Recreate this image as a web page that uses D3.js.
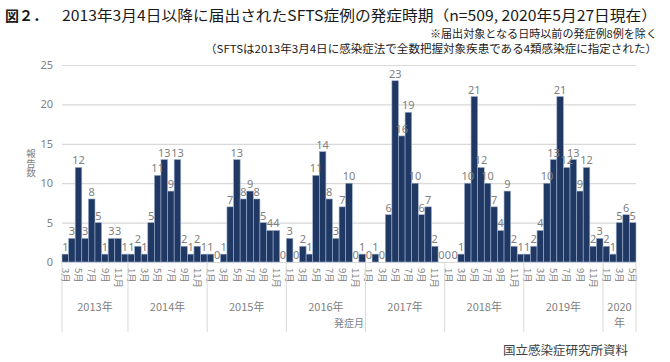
<!DOCTYPE html>
<html>
<head>
<meta charset="utf-8">
<script src="https://cdn.jsdelivr.net/npm/d3@7"></script>
<style>
  body { margin: 0; background: #fff; }
  text { font-family: "Noto Sans CJK JP", "Noto Sans", sans-serif; }
</style>
</head>
<body>
<div id="chart"></div>
<script>
// monthly SFTS cases by onset month (Mar 2013 - May 2020)
var years = [2013, 2014, 2015, 2016, 2017, 2018, 2019, 2020];
var cases2013 = [1, 3, 12, 3, 8, 5, 1, 3, 3, 1];             // Mar-Dec
var cases2014 = [1, 2, 1, 5, 11, 13, 9, 13, 2, 1, 2, 1];
var cases2015 = [1, 0, 1, 7, 13, 8, 9, 8, 5, 4, 4, 0];
var cases2016 = [3, 0, 2, 1, 11, 14, 8, 3, 7, 10, 0, 1];
var cases2017 = [0, 1, 0, 6, 23, 16, 19, 10, 6, 7, 2, 0];
var cases2018 = [0, 0, 1, 10, 21, 12, 10, 7, 4, 9, 2, 1];
var cases2019 = [1, 2, 4, 10, 13, 21, 12, 13, 9, 12, 2, 3];
var cases2020 = [2, 1, 5, 6, 5];                              // Jan-May
var yTicks = [0, 5, 10, 15, 20, 25];

var svgWidth = 670;
var svgHeight = 362;

var margin = { top: 65, right: 34, bottom: 100, left: 62 };
var width = svgWidth - margin.left - margin.right;
var height = svgHeight - margin.top - margin.bottom;

// flatten into one row per month
var yearCases = [cases2013, cases2014, cases2015, cases2016, cases2017, cases2018, cases2019, cases2020];
var startMonth = [3, 1, 1, 1, 1, 1, 1, 1];
var data = [];
yearCases.forEach(function(arr, i) {
  arr.forEach(function(v, j) {
    var m = startMonth[i] + j;
    data.push({ key: years[i] + "-" + m, year: years[i], month: m, value: v });
  });
});

var svg = d3.select("#chart")
  .append("svg")
  .attr("width", svgWidth)
  .attr("height", svgHeight);

var chartGroup = svg.append("g")
  .attr("transform", `translate(${margin.left}, ${margin.top})`);

var xScale = d3.scaleBand()
  .domain(data.map(d => d.key))
  .range([0, width])
  .padding(0);

var yScale = d3.scaleLinear()
  .domain([0, 25])
  .range([height, 0]);

// gridlines + y labels
var leftAxis = d3.axisLeft(yScale)
  .tickValues(yTicks)
  .tickSize(-width)
  .tickPadding(9);

var yAxis = chartGroup.append("g").call(leftAxis);
yAxis.select(".domain").remove();
yAxis.selectAll("line").attr("stroke", "#d9d9d9").attr("stroke-width", 1.2);
yAxis.selectAll("text")
  .attr("fill", "#7f7f7f")
  .attr("font-size", "11px")
  .style("font-family", "'Noto Sans', sans-serif");

// bars
chartGroup.selectAll("rect.bar")
  .data(data)
  .enter()
  .append("rect")
  .attr("class", "bar")
  .attr("x", d => xScale(d.key))
  .attr("y", d => yScale(d.value))
  .attr("width", xScale.bandwidth())
  .attr("height", d => height - yScale(d.value))
  .attr("fill", "#1f3864")
  .attr("stroke", "#9fb0cc")
  .attr("stroke-width", 0.6);

// value labels
chartGroup.selectAll("text.val")
  .data(data)
  .enter()
  .append("text")
  .attr("class", "val")
  .attr("x", d => xScale(d.key) + xScale.bandwidth() / 2)
  .attr("y", d => yScale(d.value) - 3)
  .attr("text-anchor", "middle")
  .attr("font-size", "11px")
  .attr("fill", "#808080")
  .style("font-family", "'Noto Sans', sans-serif")
  .text(d => d.value);

// month labels (odd months only), rotated
chartGroup.selectAll("text.month")
  .data(data.filter(d => d.month % 2 === 1))
  .enter()
  .append("text")
  .attr("class", "month")
  .attr("transform", d => `translate(${xScale(d.key) + xScale.bandwidth() / 2}, ${height + 6}) rotate(90)`)
  .attr("dy", "0.35em")
  .attr("font-size", "9.5px")
  .attr("fill", "#7f7f7f")
  .text(d => d.month + "月");

// year separators and labels
var yearGroups = years.map(function(y) {
  var rows = data.filter(d => d.year === y);
  var x0 = xScale(rows[0].key);
  var x1 = xScale(rows[rows.length - 1].key) + xScale.bandwidth();
  return { year: y, x0: x0, x1: x1 };
});

chartGroup.selectAll("line.sep")
  .data(yearGroups.map(g => g.x0).concat([width]))
  .enter()
  .append("line")
  .attr("x1", d => d)
  .attr("x2", d => d)
  .attr("y1", height)
  .attr("y2", height + 70)
  .attr("stroke", "#d9d9d9")
  .attr("stroke-width", 1);

yearGroups.forEach(function(g) {
  var cx = (g.x0 + g.x1) / 2;
  var t = chartGroup.append("text")
    .attr("x", cx)
    .attr("y", height + 49)
    .attr("text-anchor", "middle")
    .attr("font-size", "11px")
    .attr("fill", "#7f7f7f");
  if (g.year === 2020) {
    t.text("2020");
    chartGroup.append("text")
      .attr("x", cx)
      .attr("y", height + 65)
      .attr("text-anchor", "middle")
      .attr("font-size", "11px")
      .attr("fill", "#7f7f7f")
      .text("年");
  } else {
    t.text(g.year + "年");
  }
});

// x axis title
chartGroup.append("text")
  .attr("x", width / 2)
  .attr("y", height + 65)
  .attr("text-anchor", "middle")
  .attr("font-size", "10px")
  .attr("fill", "#7f7f7f")
  .text("発症月");

// y axis title, vertical writing
svg.append("text")
  .attr("x", 31)
  .attr("y", 149)
  .attr("writing-mode", "vertical-rl")
  .style("text-orientation", "upright")
  .attr("font-size", "9.5px")
  .attr("fill", "#7f7f7f")
  .text("報告数");

// titles
svg.append("text")
  .attr("x", 5)
  .attr("y", 21)
  .attr("font-size", "14px")
  .attr("font-weight", "bold")
  .attr("fill", "#1a1a1a")
  .text("図２．");

svg.append("text")
  .attr("x", 62)
  .attr("y", 21)
  .attr("font-size", "14.5px")
  .attr("fill", "#1a1a1a")
  .attr("textLength", 595)
  .attr("lengthAdjust", "spacingAndGlyphs")
  .text("2013年3月4日以降に届出されたSFTS症例の発症時期（n=509, 2020年5月27日現在）");

svg.append("text")
  .attr("x", 430)
  .attr("y", 38)
  .attr("font-size", "11px")
  .attr("fill", "#1a1a1a")
  .attr("textLength", 227)
  .attr("lengthAdjust", "spacingAndGlyphs")
  .text("※届出対象となる日時以前の発症例8例を除く");

svg.append("text")
  .attr("x", 205)
  .attr("y", 53)
  .attr("font-size", "11px")
  .attr("fill", "#1a1a1a")
  .attr("textLength", 452)
  .attr("lengthAdjust", "spacingAndGlyphs")
  .text("（SFTSは2013年3月4日に感染症法で全数把握対象疾患である4類感染症に指定された）");

// source
svg.append("text")
  .attr("x", 503)
  .attr("y", 355)
  .attr("font-size", "12.5px")
  .attr("fill", "#404040")
  .attr("textLength", 125)
  .attr("lengthAdjust", "spacingAndGlyphs")
  .text("国立感染症研究所資料");
</script>
</body>
</html>
